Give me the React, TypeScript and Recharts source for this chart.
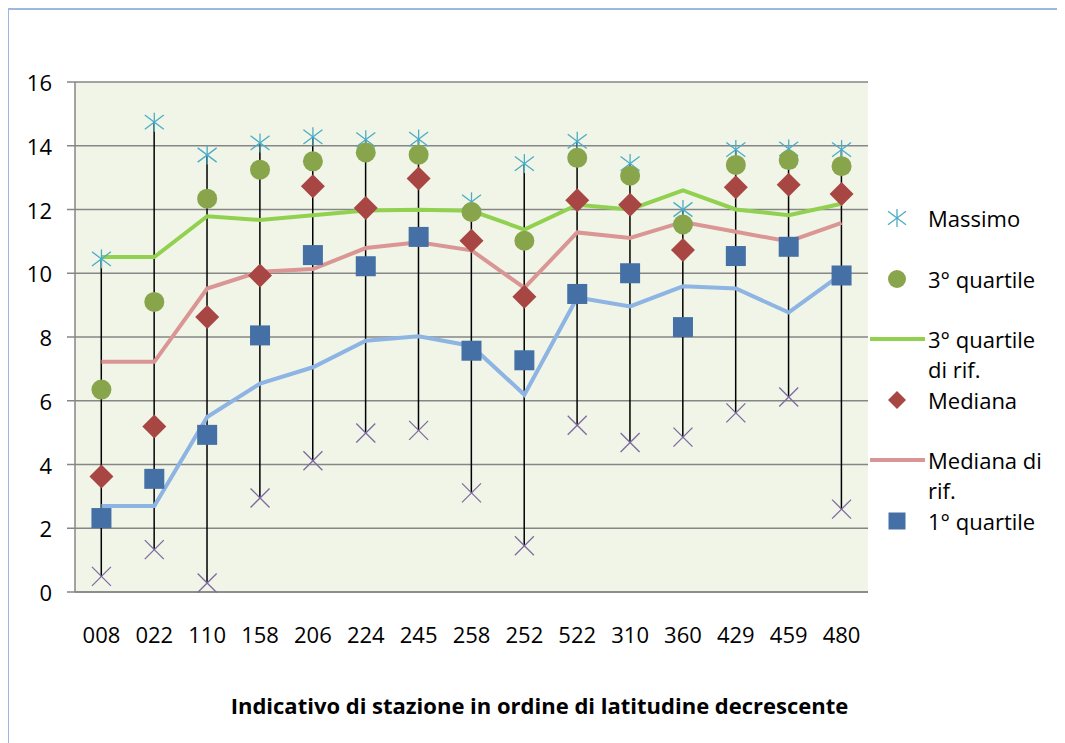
import React from 'react';
import { ComposedChart, Line, Bar, XAxis, YAxis, CartesianGrid, Legend, Label } from 'recharts';

const categories = ['008', '022', '110', '158', '206', '224', '245', '258', '252', '522', '310', '360', '429', '459', '480'];
const massimo = [10.45, 14.74, 13.71, 14.09, 14.28, 14.19, 14.21, 12.24, 13.44, 14.14, 13.44, 12.0, 13.88, 13.9, 13.88];
const terzoQuartile = [6.35, 9.1, 12.34, 13.25, 13.51, 13.79, 13.72, 11.92, 11.02, 13.62, 13.06, 11.53, 13.4, 13.55, 13.36];
const terzoQuartileRif = [10.51, 10.51, 11.79, 11.67, 11.82, 11.97, 11.99, 11.96, 11.37, 12.15, 12.0, 12.6, 12.0, 11.82, 12.18];
const mediana = [3.62, 5.19, 8.63, 9.93, 12.73, 12.05, 12.97, 11.02, 9.26, 12.29, 12.15, 10.73, 12.7, 12.78, 12.49];
const medianaRif = [7.22, 7.22, 9.52, 10.05, 10.13, 10.79, 10.97, 10.72, 9.54, 11.28, 11.11, 11.61, 11.3, 11.0, 11.58];
const primoQuartile = [2.32, 3.55, 4.93, 8.05, 10.57, 10.22, 11.14, 7.57, 7.27, 9.35, 10.0, 8.31, 10.54, 10.83, 9.93];
const primoQuartileRif = [2.7, 2.7, 5.49, 6.54, 7.05, 7.88, 8.02, 7.72, 6.19, 9.24, 8.96, 9.59, 9.52, 8.77, 9.97];
const minimo = [0.49, 1.33, 0.28, 2.95, 4.12, 4.99, 5.07, 3.11, 1.45, 5.23, 4.69, 4.86, 5.62, 6.12, 2.6];
const yTicks = [0, 2, 4, 6, 8, 10, 12, 14, 16];

const xTitle = 'Indicativo di stazione in ordine di latitudine decrescente';

const data = categories.map((c, i) => ({
  cat: c,
  massimo: massimo[i],
  q3: terzoQuartile[i],
  q3Ref: terzoQuartileRif[i],
  mediana: mediana[i],
  medianaRef: medianaRif[i],
  q1: primoQuartile[i],
  q1Ref: primoQuartileRif[i],
  minimo: minimo[i],
  range: [minimo[i], massimo[i]],
}));

const FONT = '"Open Sans", sans-serif';
const C_STAR = '#4BACC6';
const C_CIRCLE = '#89A54C';
const C_DIAMOND = '#A84644';
const C_SQUARE = '#4470A6';
const C_MIN = '#7D6A9E';
const C_Q3REF = '#92D050';
const C_MEDREF = '#DA9694';
const C_Q1REF = '#8DB4E2';

const starEl = (cx: number, cy: number, r: number, key?: any) => (
  <g key={key}>
    <line x1={cx} y1={cy - r} x2={cx} y2={cy + r} stroke={C_STAR} strokeWidth={1.3} />
    <line x1={cx - r} y1={cy - r * 0.75} x2={cx + r} y2={cy + r * 0.75} stroke={C_STAR} strokeWidth={1.3} />
    <line x1={cx - r} y1={cy + r * 0.75} x2={cx + r} y2={cy - r * 0.75} stroke={C_STAR} strokeWidth={1.3} />
  </g>
);
const xEl = (cx: number, cy: number, r: number, key?: any) => (
  <g key={key}>
    <line x1={cx - r} y1={cy - r} x2={cx + r} y2={cy + r} stroke={C_MIN} strokeWidth={1.3} />
    <line x1={cx - r} y1={cy + r} x2={cx + r} y2={cy - r} stroke={C_MIN} strokeWidth={1.3} />
  </g>
);
const circleEl = (cx: number, cy: number, r: number, key?: any) => <circle key={key} cx={cx} cy={cy} r={r} fill={C_CIRCLE} />;
const diamondEl = (cx: number, cy: number, r: number, key?: any) => (
  <polygon key={key} points={`${cx},${cy - r} ${cx + r},${cy} ${cx},${cy + r} ${cx - r},${cy}`} fill={C_DIAMOND} />
);
const squareEl = (cx: number, cy: number, r: number, key?: any) => (
  <rect key={key} x={cx - r} y={cy - r} width={2 * r} height={2 * r} fill={C_SQUARE} />
);

const mkDot = (fn: any, r: number) => (p: any) => {
  if (p.cx == null || p.cy == null) return <g key={p.index} />;
  return fn(p.cx, p.cy, r, p.index);
};

const RangeShape = (p: any) => {
  const { x, y, width, height } = p;
  if (x == null) return <g />;
  const cx = x + width / 2;
  return <line x1={cx} y1={y} x2={cx} y2={y + height} stroke="#000" strokeWidth={1.5} />;
};

const YTick = (p: any) => (
  <text
    x={p.x}
    y={p.y}
    textAnchor="end"
    dominantBaseline="central"
    fontFamily={FONT}
    fontSize={22}
    fill="#000"
  >
    {p.payload.value}
  </text>
);

const legendItems = [
  { key: 'massimo', label: 'Massimo', kind: 'star' },
  { key: 'q3', label: '3° quartile', kind: 'circle' },
  { key: 'q3Ref', label: '3° quartile di rif.', kind: 'line', color: C_Q3REF },
  { key: 'mediana', label: 'Mediana', kind: 'diamond' },
  { key: 'medianaRef', label: 'Mediana di rif.', kind: 'line', color: C_MEDREF },
  { key: 'q1', label: '1° quartile', kind: 'square' },
];

const LegendContent = () => (
  <div style={{ fontFamily: FONT, fontSize: 22, color: '#000' }}>
    {legendItems.map((it) => (
      <div key={it.key} style={{ display: 'flex', height: 60.5, alignItems: 'flex-start' }}>
        <svg width={56} height={30} style={{ flex: 'none' }}>
          {it.kind === 'star' && starEl(27, 15, 9)}
          {it.kind === 'circle' && circleEl(27, 15, 9)}
          {it.kind === 'diamond' && diamondEl(27, 15, 9)}
          {it.kind === 'square' && squareEl(27, 15, 8.5)}
          {it.kind === 'line' && <line x1={0} y1={15} x2={55} y2={15} stroke={it.color} strokeWidth={4} />}
        </svg>
        <div style={{ marginLeft: 2, width: 125, lineHeight: '30px' }}>{it.label}</div>
      </div>
    ))}
  </div>
);

const TitleLabel = (p: any) => {
  const vb = p.viewBox || {};
  return (
    <text
      x={vb.x + vb.width / 2 + 68}
      y={vb.y + 113}
      textAnchor="middle"
      dominantBaseline="central"
      fontFamily={FONT}
      fontWeight="bold"
      fontSize={22}
      fill="#000"
    >
      {xTitle}
    </text>
  );
};

export default function App() {
  return (
    <div
      style={{
        width: 1057,
        height: 735,
        boxSizing: 'border-box',
        borderLeft: '2px solid #9DB7E0',
        borderTop: '2px solid #9DB7E0',
        marginLeft: -1,
        position: 'relative',
        background: '#fff',
      }}
    >
      <div style={{ position: 'absolute', left: -1, top: -2 }}>
        <ComposedChart
          width={1057}
          height={735}
          data={data}
          margin={{ top: 74, right: 197, bottom: 91, left: 7 }}
          style={{ fontFamily: FONT }}
        >
          <CartesianGrid vertical={false} stroke="#868686" strokeWidth={1.5} fill="#F1F5E8" fillOpacity={1} />
          <XAxis
            dataKey="cat"
            type="category"
            tickLine={false}
            tickSize={0}
            tickMargin={35}
            height={60}
            axisLine={{ stroke: '#868686', strokeWidth: 1.5 }}
            tick={{ fill: '#000', fontSize: 22, fontFamily: FONT }}
            interval={0}
          >
            <Label content={TitleLabel} />
          </XAxis>
          <YAxis
            domain={[0, 16]}
            ticks={yTicks}
            width={60}
            tickSize={8}
            tickMargin={15}
            axisLine={{ stroke: '#868686', strokeWidth: 1.5 }}
            tickLine={{ stroke: '#868686', strokeWidth: 1.5 }}
            tick={YTick}
            interval={0}
          />
          <Line dataKey="q1Ref" stroke={C_Q1REF} strokeWidth={4} dot={false} activeDot={false} isAnimationActive={false} legendType="none" />
          <Line dataKey="medianaRef" stroke={C_MEDREF} strokeWidth={4} dot={false} activeDot={false} isAnimationActive={false} />
          <Line dataKey="q3Ref" stroke={C_Q3REF} strokeWidth={4} dot={false} activeDot={false} isAnimationActive={false} />
          <Bar dataKey="range" shape={RangeShape} isAnimationActive={false} legendType="none" />
          <Line dataKey="minimo" stroke="none" dot={mkDot(xEl, 9.5)} activeDot={false} isAnimationActive={false} legendType="none" />
          <Line dataKey="massimo" stroke="none" dot={mkDot(starEl, 9.5)} activeDot={false} isAnimationActive={false} />
          <Line dataKey="q3" stroke="none" dot={mkDot(circleEl, 10)} activeDot={false} isAnimationActive={false} />
          <Line dataKey="mediana" stroke="none" dot={mkDot(diamondEl, 12)} activeDot={false} isAnimationActive={false} />
          <Line dataKey="q1" stroke="none" dot={mkDot(squareEl, 10)} activeDot={false} isAnimationActive={false} />
          <Legend
            layout="vertical"
            align="center"
            verticalAlign="middle"
            content={LegendContent}
            wrapperStyle={{ position: 'absolute', left: 862, top: 195, width: 195 }}
          />
        </ComposedChart>
      </div>
    </div>
  );
}
